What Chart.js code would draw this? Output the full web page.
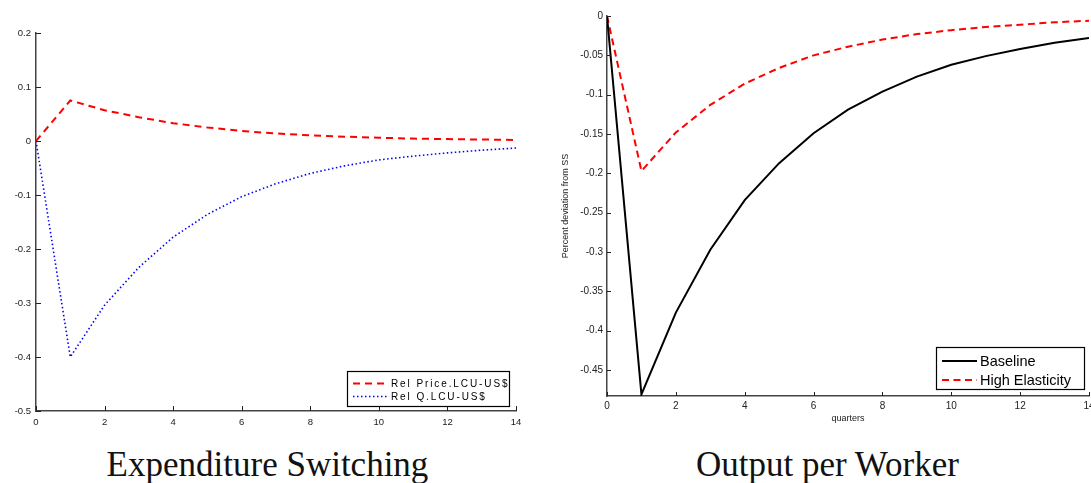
<!DOCTYPE html>
<html><head><meta charset="utf-8">
<script src="https://cdn.jsdelivr.net/npm/chart.js@4/dist/chart.umd.min.js"></script>
<style>
html,body{margin:0;padding:0;background:#fff;overflow:hidden;width:1091px;height:483px;}
#c1{position:absolute;left:0;top:0;}
#c2{position:absolute;left:550px;top:0;}
.title{position:absolute;top:447.4px;font-family:'Liberation Serif',serif;font-size:35px;line-height:35px;white-space:nowrap;color:#111;transform:translateX(-50%);}
</style></head><body>
<canvas id="c1" width="545" height="440"></canvas>
<canvas id="c2" width="560" height="440"></canvas>
<div class="title" style="left:267.5px">Expenditure Switching</div>
<div class="title" style="left:827.5px">Output per Worker</div>
<script>
// ---- data ----
const quarters = [0,1,2,3,4,5,6,7,8,9,10,11,12,13,14];
const relPrice = [0, 0.075, 0.057, 0.044, 0.033, 0.025, 0.0185, 0.014, 0.0105, 0.008, 0.006, 0.0045, 0.0035, 0.0027, 0.002];
const relQ = [0, -0.400, -0.304, -0.234, -0.178, -0.136, -0.103, -0.079, -0.060, -0.046, -0.035, -0.028, -0.022, -0.017, -0.013];
const baseline = [0, -0.481, -0.377, -0.297, -0.234, -0.187, -0.149, -0.119, -0.096, -0.077, -0.062, -0.051, -0.042, -0.034, -0.028];
const highElasticity = [0, -0.197, -0.148, -0.113, -0.086, -0.066, -0.050, -0.039, -0.030, -0.023, -0.018, -0.014, -0.011, -0.008, -0.006];
const xTicks = [0,2,4,6,8,10,12,14];
const leftYTicks = [0.2,0.1,0,-0.1,-0.2,-0.3,-0.4,-0.5];
const rightYTicks = [0,-0.05,-0.1,-0.15,-0.2,-0.25,-0.3,-0.35,-0.4,-0.45];
const leftLabels = ['Rel Price.LCU-US$','Rel Q.LCU-US$'];
const rightLabels = ['Baseline','High Elasticity'];

const pts = vals => quarters.map((q,i)=>({x:q,y:vals[i]}));
const fmt = v => String(Number(Number(v).toFixed(3)));
const AXIS = '#444';

function inTicks(len){
  return {id:'inTicks', afterDraw(chart){
    const ctx=chart.ctx, a=chart.chartArea;
    ctx.save(); ctx.strokeStyle='#222'; ctx.lineWidth=1; ctx.setLineDash([]);
    const xs=chart.scales.x, ys=chart.scales.y;
    xs.ticks.forEach(t=>{const p=Math.round(xs.getPixelForValue(t.value))+0.5;
      ctx.beginPath();ctx.moveTo(p,a.bottom);ctx.lineTo(p,a.bottom-len);ctx.stroke();});
    ys.ticks.forEach(t=>{const p=Math.round(ys.getPixelForValue(t.value))+0.5;
      ctx.beginPath();ctx.moveTo(a.left,p);ctx.lineTo(a.left+len,p);ctx.stroke();});
    ctx.restore();
  }};
}
function boxLegend(cfg){
  return {id:'boxLegend', afterDraw(chart){
    const ctx=chart.ctx, b=cfg.box;
    ctx.save();
    ctx.fillStyle='#fff'; ctx.fillRect(b.x,b.y,b.w,b.h);
    ctx.strokeStyle='#000'; ctx.lineWidth=1.2; ctx.setLineDash([]);
    ctx.strokeRect(b.x+0.5,b.y+0.5,b.w,b.h);
    chart.data.datasets.forEach((ds,i)=>{
      const y=cfg.rows[i];
      ctx.strokeStyle=ds.borderColor; ctx.lineWidth=ds.borderWidth; ctx.setLineDash(ds.borderDash||[]);
      ctx.beginPath(); ctx.moveTo(cfg.sample[0],y); ctx.lineTo(cfg.sample[1],y); ctx.stroke();
      ctx.setLineDash([]);
      ctx.fillStyle='#000'; ctx.font=cfg.font; ctx.textBaseline='middle';
      if('letterSpacing' in ctx) ctx.letterSpacing=cfg.spacing||'0px';
      ctx.fillText(ds.label,cfg.textX,y+0.5);
    });
    ctx.restore();
  }};
}
function axisBase(){
  return {grid:{display:true,drawOnChartArea:false,drawTicks:false},border:{display:true,color:AXIS,width:1.5}};
}

Chart.defaults.font.family = "'Liberation Sans', Arial, sans-serif";
Chart.defaults.color = '#222';

new Chart(document.getElementById('c1'),{
  type:'line',
  data:{datasets:[
    {label:leftLabels[0],data:pts(relPrice),borderColor:'#ff0000',borderWidth:2,borderDash:[7,5]},
    {label:leftLabels[1],data:pts(relQ),borderColor:'#0000ff',borderWidth:1.6,borderDash:[1.5,2.5]}
  ]},
  options:{
    responsive:false,animation:false,
    layout:{padding:{left:0,right:29,top:33,bottom:9}},
    elements:{point:{radius:0},line:{tension:0,fill:false}},
    plugins:{legend:{display:false},tooltip:{enabled:false}},
    scales:{
      x:Object.assign(axisBase(),{type:'linear',min:0,max:14,
        afterBuildTicks:s=>{s.ticks=xTicks.map(v=>({value:v}));},
        afterFit:s=>{s.height=20;},
        ticks:{padding:6,font:{size:9.5},callback:fmt,maxRotation:0,autoSkip:false}}),
      y:Object.assign(axisBase(),{type:'linear',min:-0.5,max:0.2,
        afterBuildTicks:s=>{s.ticks=leftYTicks.map(v=>({value:v}));},
        afterFit:s=>{s.width=36;},
        ticks:{padding:5,font:{size:9.5},callback:fmt,autoSkip:false}})
    }
  },
  plugins:[inTicks(5),boxLegend({box:{x:347,y:371,w:162,h:35},rows:[383.5,396.5],sample:[353,388],textX:391,font:"10px 'Liberation Sans', Arial, sans-serif",spacing:'1.9px'})]
});

new Chart(document.getElementById('c2'),{
  type:'line',
  data:{datasets:[
    {label:rightLabels[0],data:pts(baseline),borderColor:'#000000',borderWidth:2},
    {label:rightLabels[1],data:pts(highElasticity),borderColor:'#ff0000',borderWidth:2,borderDash:[7,4.5]}
  ]},
  options:{
    responsive:false,animation:false,
    layout:{padding:{left:0,right:21,top:16,bottom:16}},
    elements:{point:{radius:0},line:{tension:0,fill:false}},
    plugins:{legend:{display:false},tooltip:{enabled:false}},
    scales:{
      x:Object.assign(axisBase(),{type:'linear',min:0,max:14,
        afterBuildTicks:s=>{s.ticks=xTicks.map(v=>({value:v}));},
        afterFit:s=>{s.height=28;},
        title:{display:true,text:'quarters',font:{size:9},padding:{top:0,bottom:0}},
        ticks:{padding:4,font:{size:10},callback:fmt,maxRotation:0,autoSkip:false}}),
      y:Object.assign(axisBase(),{type:'linear',min:-0.483,max:0,
        afterBuildTicks:s=>{s.ticks=rightYTicks.map(v=>({value:v}));},
        afterFit:s=>{s.width=57;},
        title:{display:true,text:'Percent deviation from SS',font:{size:9},padding:{top:10.6,bottom:0}},
        ticks:{padding:4,font:{size:10},callback:fmt,autoSkip:false}})
    }
  },
  plugins:[inTicks(4),boxLegend({box:{x:386,y:347,w:148,h:42},rows:[361,380],sample:[392,427],textX:430,font:"14.5px 'Liberation Sans', Arial, sans-serif",spacing:'0px'})]
});
</script>
</body></html>
